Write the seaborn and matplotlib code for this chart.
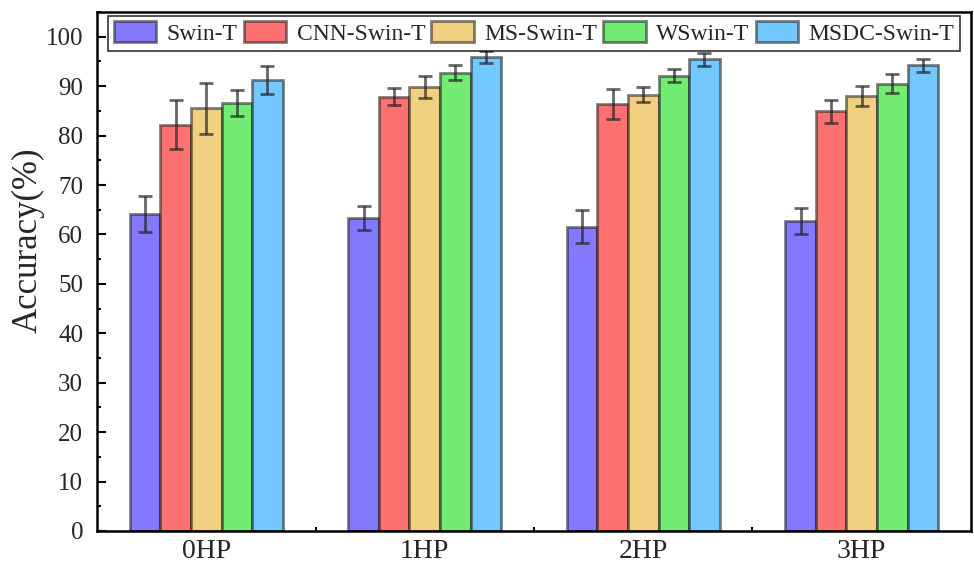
import numpy as np
import pandas as pd
import matplotlib
matplotlib.use("Agg")
import matplotlib.pyplot as plt
from matplotlib.ticker import MultipleLocator, FixedLocator
import seaborn as sns

# Loads and model variants
loads = ["0HP", "1HP", "2HP", "3HP"]
models = ["Swin-T", "CNN-Swin-T", "MS-Swin-T", "WSwin-T", "MSDC-Swin-T"]

# Mean accuracy (%) per model, one entry per load
swin_t = [64.1, 63.3, 61.6, 62.7]
cnn_swin_t = [82.2, 87.9, 86.4, 84.9]
ms_swin_t = [85.5, 89.9, 88.3, 88.0]
wswin_t = [86.6, 92.7, 92.1, 90.5]
msdc_swin_t = [91.3, 95.9, 95.4, 94.2]

# Standard deviation per model
swin_t_err = [3.7, 2.4, 3.35, 2.7]
cnn_swin_t_err = [4.9, 1.7, 3.1, 2.35]
ms_swin_t_err = [5.2, 2.2, 1.6, 2.0]
wswin_t_err = [2.6, 1.5, 1.3, 1.9]
msdc_swin_t_err = [2.85, 1.3, 1.35, 1.35]

means = [swin_t, cnn_swin_t, ms_swin_t, wswin_t, msdc_swin_t]
errs = [swin_t_err, cnn_swin_t_err, ms_swin_t_err, wswin_t_err, msdc_swin_t_err]

colors = ["#8478FF", "#FF7070", "#F0CF80", "#72EC72", "#73C9FF"]

rows = []
for m, vals, es in zip(models, means, errs):
    for load, v, e in zip(loads, vals, es):
        rows.append({"Load": load, "Model": m, "Accuracy": v, "Err": e})
df = pd.DataFrame(rows)

sns.set_theme(style="ticks")
plt.rcParams["font.family"] = ["Liberation Serif", "DejaVu Serif"]
plt.rcParams["mathtext.fontset"] = "stix"

fig = plt.figure(figsize=(9.74, 5.67), dpi=100)
ax = fig.add_axes([0.0996, 0.0635, 0.8973, 0.9153])

sns.barplot(
    data=df, x="Load", y="Accuracy", hue="Model",
    order=loads, hue_order=models, palette=colors,
    width=0.7, gap=0, errorbar=None, ax=ax,
    edgecolor=(0.1, 0.1, 0.1, 0.55), linewidth=2, saturation=1,
)

# Error bars placed at the centre of each drawn bar
for container, m in zip(ax.containers, models):
    sub = df[df["Model"] == m].set_index("Load").loc[loads]
    xs = [p.get_x() + p.get_width() / 2 for p in container.patches]
    hs = [p.get_height() for p in container.patches]
    ax.errorbar(xs, hs, yerr=sub["Err"].values, fmt="none",
                ecolor=(0.15, 0.15, 0.15, 0.7), elinewidth=2,
                capsize=5, capthick=2, zorder=5)

ax.set_xlim(-0.5, 3.5)
ax.set_ylim(0, 105)
ax.yaxis.set_major_locator(MultipleLocator(10))
ax.yaxis.set_minor_locator(MultipleLocator(5))
ax.xaxis.set_minor_locator(FixedLocator([0.5, 1.5, 2.5]))

for s in ax.spines.values():
    s.set_visible(True)
    s.set_linewidth(1.8)
    s.set_color("black")

ax.tick_params(axis="both", which="major", direction="in", length=6.5, width=1.5, color="black")
ax.tick_params(axis="both", which="minor", direction="in", length=3, width=1.5, color="black")
ax.tick_params(axis="y", which="both", right=False)
ax.tick_params(axis="x", which="both", top=False)
ax.tick_params(axis="y", labelsize=18, pad=10)
ax.tick_params(axis="x", labelsize=20, pad=6)

ax.set_xlabel("")
ax.set_ylabel("Accuracy(%)", fontsize=25)
ax.yaxis.set_label_coords(-0.06, 0.56)

leg = ax.legend(
    loc="upper center", bbox_to_anchor=(0.5, 1.0), ncol=5,
    fontsize=17, frameon=True, fancybox=False, edgecolor="black",
    borderaxespad=0.15, handlelength=1.8, handleheight=0.95,
    handletextpad=0.45, columnspacing=0.25, borderpad=0.25,
)
leg.get_frame().set_linewidth(1.2)
for h in leg.legend_handles:
    h.set_edgecolor((0.1, 0.1, 0.1, 0.55))
    h.set_linewidth(2)

fig.savefig("out.png", dpi=100)
